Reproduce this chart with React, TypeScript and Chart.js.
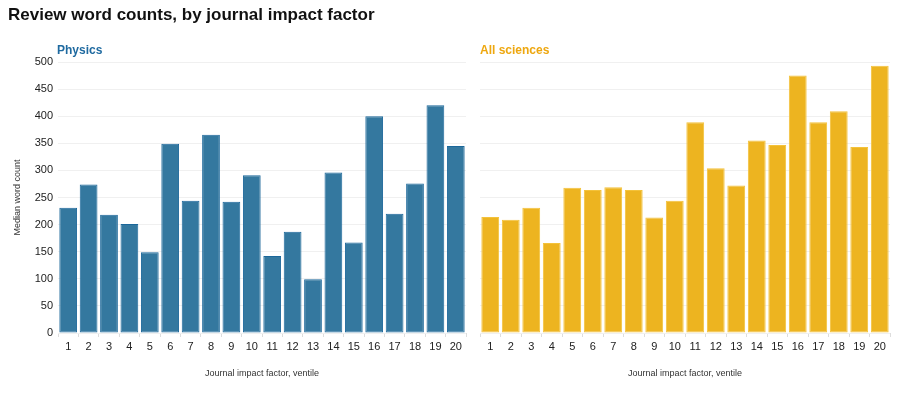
import React, { useEffect, useRef } from "react";
import { Chart, registerables } from "chart.js";

Chart.register(...registerables);

const ventiles = ["1","2","3","4","5","6","7","8","9","10","11","12","13","14","15","16","17","18","19","20"];
const physicsValues = [231, 274, 218, 201, 149, 349, 244, 366, 242, 291, 142, 187, 99, 296, 167, 400, 220, 276, 420, 345];
const allSciencesValues = [214, 209, 231, 166, 268, 264, 269, 264, 213, 244, 389, 304, 272, 355, 347, 475, 389, 409, 343, 493];
const yTicks = [0, 50, 100, 150, 200, 250, 300, 350, 400, 450, 500];

const FONT = "'Liberation Sans', Arial, Helvetica, sans-serif";

function makeConfig(values: number[], fill: string, border: string, showY: boolean, padLeft: number, padRight: number): any {
  return {
    type: "bar",
    data: {
      labels: ventiles,
      datasets: [{
        data: values,
        backgroundColor: fill,
        borderColor: border,
        borderWidth: 1,
        borderSkipped: false,
        barPercentage: 0.87,
        categoryPercentage: 1.0,
      }],
    },
    options: {
      animation: false,
      responsive: false,
      maintainAspectRatio: false,
      layout: { padding: { top: 62, bottom: 10, left: padLeft, right: padRight } },
      plugins: { legend: { display: false }, tooltip: { enabled: false }, title: { display: false } },
      scales: {
        x: {
          grid: { drawOnChartArea: false, drawTicks: true, tickLength: 4, color: "#dddddd" },
          border: { display: false },
          ticks: { color: "#222", font: { family: FONT, size: 11 }, padding: 3, maxRotation: 0, autoSkip: false },
          title: { display: true, text: "Journal impact factor, ventile", color: "#333", font: { family: FONT, size: 9 }, padding: { top: 4, bottom: 4 } },
          afterFit: (scale: any) => { scale.height = 50; },
        },
        y: {
          min: 0,
          max: 500,
          afterBuildTicks: (scale: any) => { scale.ticks = yTicks.map((v) => ({ value: v })); },
          grid: { color: "#f0f0f0", drawTicks: false, lineWidth: 1 },
          border: { display: false },
          ticks: { display: showY, color: "#222", font: { family: FONT, size: 11 }, padding: 5 },
          title: { display: showY, text: "Median word count", color: "#333", font: { family: FONT, size: 9 }, padding: { top: 4, bottom: 4 } },
          afterFit: (scale: any) => { scale.width = showY ? 50 : 0; },
        },
      },
    },
  };
}

function Panel(props: { left: number; width: number; config: any }) {
  const ref = useRef<HTMLCanvasElement | null>(null);
  useEffect(() => {
    if (!ref.current) return;
    const chart = new Chart(ref.current, props.config);
    return () => chart.destroy();
  }, []);
  return (
    <canvas
      ref={ref}
      width={props.width}
      height={393}
      style={{ position: "absolute", left: props.left, top: 0, width: props.width, height: 393 }}
    />
  );
}

export default function App() {
  const physicsCfg = makeConfig(physicsValues, "#34789f", "#1b679a", true, 8, 4);
  const allCfg = makeConfig(allSciencesValues, "#edb420", "#f4c23a", false, 10, 10);
  return (
    <div style={{ position: "relative", width: 900, height: 393, margin: -8, overflow: "hidden", background: "#fff", fontFamily: FONT }}>
      <Panel left={0} width={470} config={physicsCfg} />
      <Panel left={470} width={430} config={allCfg} />
      <div style={{ position: "absolute", left: 8, top: 5, fontSize: 17, fontWeight: "bold", color: "#111", lineHeight: "20px", whiteSpace: "nowrap" }}>
        Review word counts, by journal impact factor
      </div>
      <div style={{ position: "absolute", left: 57, top: 43, fontSize: 12, fontWeight: "bold", color: "#1f6aa0", lineHeight: "15px" }}>
        Physics
      </div>
      <div style={{ position: "absolute", left: 480, top: 43, fontSize: 12, fontWeight: "bold", color: "#eea70f", lineHeight: "15px" }}>
        All sciences
      </div>
    </div>
  );
}
